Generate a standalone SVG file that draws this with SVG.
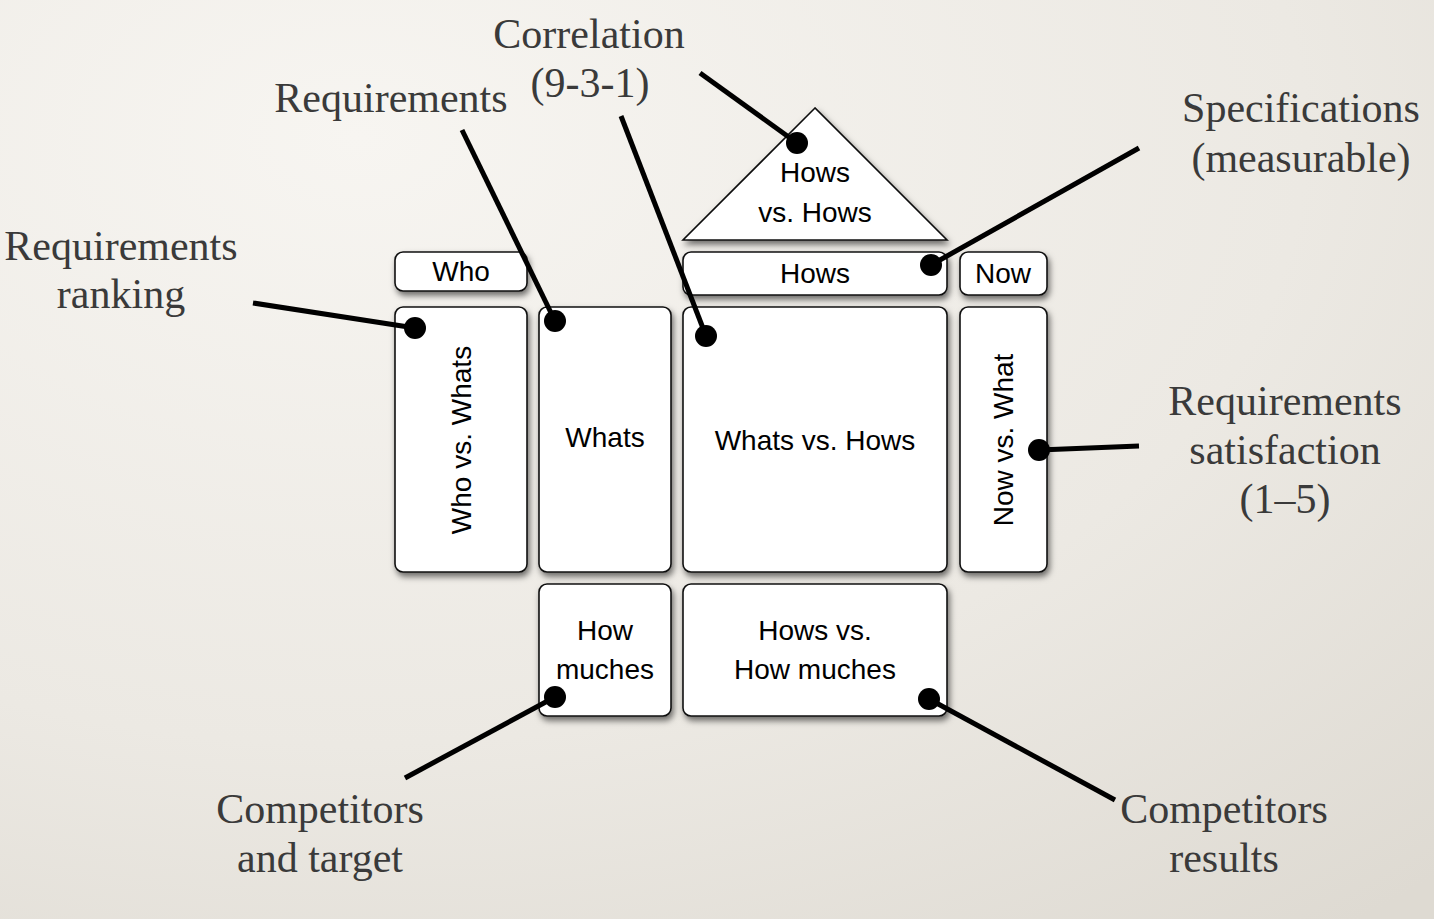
<svg xmlns="http://www.w3.org/2000/svg" width="1434" height="919" viewBox="0 0 1434 919">
<defs>
<radialGradient id="bg" cx="0.25" cy="0.15" r="1.1">
<stop offset="0" stop-color="#f7f5f1"/>
<stop offset="0.6" stop-color="#ece9e3"/>
<stop offset="1" stop-color="#dedad2"/>
</radialGradient>
<filter id="sh" x="-20%" y="-20%" width="140%" height="150%">
<feDropShadow dx="2" dy="4" stdDeviation="3" flood-color="#000" flood-opacity="0.55"/>
</filter>
<style>
.box{fill:#fff;stroke:#111;stroke-width:1.6;filter:url(#sh)}
.t{font-family:"Liberation Sans",Arial,sans-serif;font-size:28px;fill:#000;text-anchor:middle}
.lab{font-family:"Liberation Serif","Times New Roman",serif;font-size:42px;fill:#3a3a3a;text-anchor:middle}
.ln{stroke:#000;stroke-width:5;fill:none;stroke-linecap:butt}
.dot{fill:#000}
</style>
</defs>
<rect width="1434" height="919" fill="url(#bg)"/>

<g id="roof">
<polygon class="box" points="815,108 683,240 947,240" stroke-linejoin="miter"/>
<text class="t" x="815" y="182" font-size="26">Hows</text>
<text class="t" x="815" y="222" font-size="26">vs. Hows</text>
</g>
<g id="who">
<rect class="box" x="395" y="252" width="132" height="39" rx="8"/>
<text class="t" x="461" y="281">Who</text>
</g>
<g id="hows">
<rect class="box" x="683" y="252" width="264" height="43" rx="8"/>
<text class="t" x="815" y="283" font-size="27">Hows</text>
</g>
<g id="now">
<rect class="box" x="960" y="252" width="87" height="43" rx="8"/>
<text class="t" x="1003" y="283">Now</text>
</g>
<g id="who-vs-whats">
<rect class="box" x="395" y="307" width="132" height="265" rx="8"/>
<text class="t" transform="translate(471,440) rotate(-90)" x="0" y="0">Who vs. Whats</text>
</g>
<g id="whats">
<rect class="box" x="539" y="307" width="132" height="265" rx="8"/>
<text class="t" x="605" y="447">Whats</text>
</g>
<g id="whats-vs-hows">
<rect class="box" x="683" y="307" width="264" height="265" rx="8"/>
<text class="t" x="815" y="450">Whats vs. Hows</text>
</g>
<g id="now-vs-what">
<rect class="box" x="960" y="307" width="87" height="265" rx="8"/>
<text class="t" transform="translate(1013,440) rotate(-90)" x="0" y="0">Now vs. What</text>
</g>
<g id="how-muches">
<rect class="box" x="539" y="584" width="132" height="132" rx="8"/>
<text class="t" x="605" y="640" font-size="27">How</text>
<text class="t" x="605" y="679" font-size="27">muches</text>
</g>
<g id="hows-vs-how-muches">
<rect class="box" x="683" y="584" width="264" height="132" rx="8"/>
<text class="t" x="815" y="640" font-size="27">Hows vs.</text>
<text class="t" x="815" y="679" font-size="27">How muches</text>
</g>

<g id="labels">
<text class="lab" x="589" y="48">Correlation</text>
<text class="lab" x="590" y="97">(9-3-1)</text>
<text class="lab" x="391" y="112">Requirements</text>
<text class="lab" x="1301" y="122">Specifications</text>
<text class="lab" x="1301" y="172">(measurable)</text>
<text class="lab" x="121" y="260">Requirements</text>
<text class="lab" x="121" y="308">ranking</text>
<text class="lab" x="1285" y="415">Requirements</text>
<text class="lab" x="1285" y="464">satisfaction</text>
<text class="lab" x="1285" y="513">(1–5)</text>
<text class="lab" x="320" y="823">Competitors</text>
<text class="lab" x="320" y="872">and target</text>
<text class="lab" x="1224" y="823">Competitors</text>
<text class="lab" x="1224" y="872">results</text>
</g>

<g id="connectors">
<line class="ln" x1="700" y1="73" x2="797" y2="143"/>
<circle class="dot" cx="797" cy="143" r="11"/>
<line class="ln" x1="462" y1="130" x2="555" y2="321"/>
<circle class="dot" cx="555" cy="321" r="11"/>
<line class="ln" x1="621" y1="116" x2="706" y2="336"/>
<circle class="dot" cx="706" cy="336" r="11"/>
<line class="ln" x1="1139" y1="148" x2="931" y2="265"/>
<circle class="dot" cx="931" cy="265" r="11"/>
<line class="ln" x1="253" y1="303" x2="415" y2="328"/>
<circle class="dot" cx="415" cy="328" r="11"/>
<line class="ln" x1="1139" y1="446" x2="1039" y2="450"/>
<circle class="dot" cx="1039" cy="450" r="11"/>
<line class="ln" x1="405" y1="778" x2="555" y2="697"/>
<circle class="dot" cx="555" cy="697" r="11"/>
<line class="ln" x1="1115" y1="800" x2="929" y2="699"/>
<circle class="dot" cx="929" cy="699" r="11"/>
</g>
</svg>
